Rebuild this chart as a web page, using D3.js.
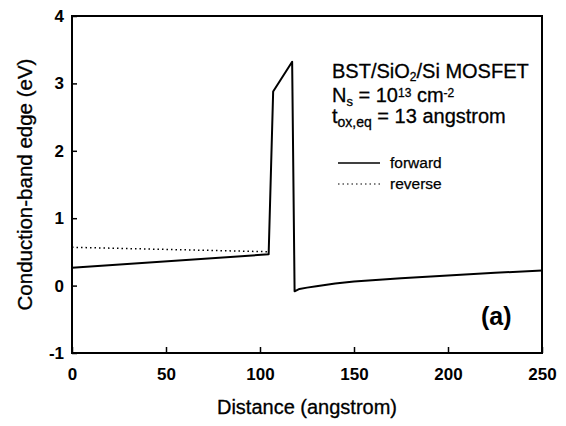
<!DOCTYPE html>
<html>
<head>
<meta charset="utf-8">
<script src="https://cdn.jsdelivr.net/npm/d3@7"></script>
<style>
  body { margin: 0; background: #fff; }
  svg { display: block; }
  text { font-family: "Liberation Sans", Arial, Helvetica, sans-serif; fill: #000; }
</style>
</head>
<body>
<div id="chart"></div>
<script>
// forward sweep (solid)
var forwardX = [0, 104.6, 107.0, 117.1, 118.4, 121, 125, 130, 140, 150, 175, 200, 225, 250];
var forwardY = [0.266, 0.464, 2.88, 3.32, -0.085, -0.05, -0.03, -0.01, 0.03, 0.06, 0.11, 0.15, 0.19, 0.225];

// reverse sweep (dotted), only where it differs
var reverseX = [0, 104];
var reverseY = [0.568, 0.503];

var xTicks = [0, 50, 100, 150, 200, 250];
var yTicks = [-1, 0, 1, 2, 3, 4];

var W = 566, H = 426;
var margin = { left: 72, top: 16, right: 24, bottom: 73 };
var w = W - margin.left - margin.right;
var h = H - margin.top - margin.bottom;

var svg = d3.select("#chart").append("svg")
  .attr("width", W)
  .attr("height", H);

var g = svg.append("g")
  .attr("transform", "translate(" + margin.left + "," + margin.top + ")");

var x = d3.scaleLinear().domain([0, 250]).range([0, w]);
var y = d3.scaleLinear().domain([-1, 4]).range([h, 0]);

var fmt = function(d) { return String(d); };  // plain hyphen for -1

// axes, ticks point inward
var xAxis = g.append("g")
  .attr("transform", "translate(0," + h + ")")
  .call(d3.axisBottom(x).tickValues(xTicks).tickFormat(fmt).tickSize(-6).tickPadding(14.5));
var yAxis = g.append("g")
  .call(d3.axisLeft(y).tickValues(yTicks).tickFormat(fmt).tickSize(-5).tickPadding(8));

[xAxis, yAxis].forEach(function(a) {
  a.select(".domain").remove();
  a.selectAll(".tick line").attr("stroke", "#000").attr("stroke-width", 1.5);
  a.selectAll(".tick text")
    .style("font-size", "17px")
    .style("font-weight", "bold")
    .style("font-family", "'Liberation Sans', Arial, sans-serif")
    .attr("fill", "#000");
});

// frame
g.append("rect")
  .attr("x", 0).attr("y", 0)
  .attr("width", w).attr("height", h)
  .attr("fill", "none")
  .attr("stroke", "#000")
  .attr("stroke-width", 2);

var line = d3.line()
  .x(function(d) { return x(d[0]); })
  .y(function(d) { return y(d[1]); });

g.append("path")
  .datum(d3.zip(reverseX, reverseY))
  .attr("d", line)
  .attr("fill", "none")
  .attr("stroke", "#000")
  .attr("stroke-width", 1.5)
  .attr("stroke-dasharray", "1.5,3");

g.append("path")
  .datum(d3.zip(forwardX, forwardY))
  .attr("d", line)
  .attr("fill", "none")
  .attr("stroke", "#000")
  .attr("stroke-width", 2)
  .attr("stroke-linejoin", "round");

// axis titles
svg.append("text")
  .attr("x", margin.left + w / 2)
  .attr("y", 414)
  .attr("text-anchor", "middle")
  .style("font-size", "20px")
  .style("stroke", "#000").style("stroke-width", 0.3)
  .text("Distance (angstrom)");

svg.append("text")
  .attr("transform", "translate(32," + (margin.top + y(1.5)) + ") rotate(-90)")
  .attr("text-anchor", "middle")
  .style("font-size", "20.5px")
  .style("stroke", "#000").style("stroke-width", 0.3)
  .text("Conduction-band edge (eV)");

// annotation block
var note = svg.append("g")
  .style("font-size", "20px")
  .style("stroke", "#000").style("stroke-width", 0.3);

var t1 = note.append("text").attr("x", 332).attr("y", 78);
t1.append("tspan").text("BST/SiO");
t1.append("tspan").attr("dy", 3).style("font-size", "12px").text("2");
t1.append("tspan").attr("dy", -3).text("/Si MOSFET");

var t2 = note.append("text").attr("x", 332).attr("y", 102);
t2.append("tspan").text("N");
t2.append("tspan").attr("dy", 4).style("font-size", "13px").text("s");
t2.append("tspan").attr("dy", -4).text(" = 10");
t2.append("tspan").attr("dy", -5).style("font-size", "12px").text("13");
t2.append("tspan").attr("dy", 5).text(" cm");
t2.append("tspan").attr("dy", -5).style("font-size", "12px").text("-2");

var t3 = note.append("text").attr("x", 332).attr("y", 123);
t3.append("tspan").text("t");
t3.append("tspan").attr("dy", 4).style("font-size", "14px").text("ox,eq");
t3.append("tspan").attr("dy", -4).text(" = 13 angstrom");

// legend
var legend = [
  { label: "forward", dash: null, width: 1.5, y: 163 },
  { label: "reverse", dash: "1.5,3", width: 1.2, y: 184 }
];
legend.forEach(function(d) {
  svg.append("line")
    .attr("x1", 338).attr("x2", 380)
    .attr("y1", d.y).attr("y2", d.y)
    .attr("stroke", "#000")
    .attr("stroke-width", d.width)
    .attr("stroke-dasharray", d.dash);
  svg.append("text")
    .attr("x", 390).attr("y", d.y + 5)
    .style("font-size", "15.5px")
    .style("stroke", "#000").style("stroke-width", 0.25)
    .text(d.label);
});

svg.append("text")
  .attr("x", 481).attr("y", 325)
  .style("font-size", "25px")
  .style("font-weight", "bold")
  .text("(a)");
</script>
</body>
</html>
